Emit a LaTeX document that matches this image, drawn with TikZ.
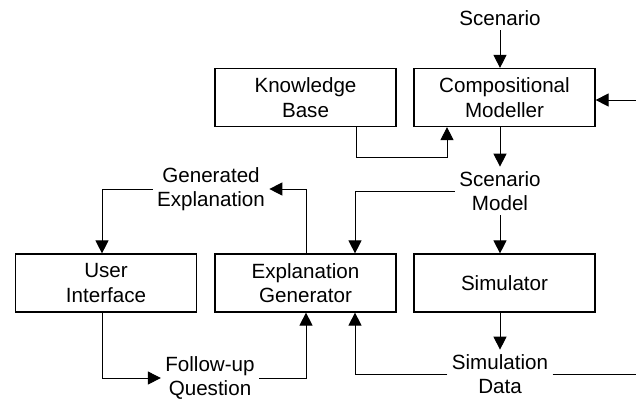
\documentclass[tikz,border=0pt]{standalone}
\usepackage{fontspec}
\setmainfont{Liberation Sans}
\usetikzlibrary{arrows.meta,calc}

\begin{document}
\begin{tikzpicture}[x=0.5pt,y=-0.5pt,line width=0.5pt,
    font=\fontsize{10.3pt}{12.3pt}\selectfont,
    block/.style={draw,line width=0.6pt,minimum width=90.5pt,minimum height=29pt,align=center,inner sep=0pt},
    tag/.style={align=center,inner sep=2pt},
    arr/.style={-{Triangle[length=6.5pt,width=6.5pt]}}]
  \useasboundingbox (0,0) rectangle (636,398);

  % upper part
  \node[tag] (scen) at (500,18) {Scenario};
  \node[block] (kb) at (305.5,97.5) {Knowledge\\Base};
  \node[block] (cm) at (504.5,97.5) {Compositional\\Modeller};
  \node[tag] (scenmod) at (500,191) {Scenario\\Model};
  \node[tag] (genexp) at (211,189) {Generated\\Explanation};

  % lower part
  \node[block] (ui) at (106,283) {User\\Interface};
  \node[block] (expgen) at (305.5,283) {Explanation\\Generator};
  \node[block] (sim) at (504.5,283) {Simulator};
  \node[tag] (follow) at (210,378) {Follow-up\\Question};
  \node[tag] (simdata) at (500,374) {Simulation\\Data};

  \coordinate (infeed) at (636,100);
  \coordinate (outfeed) at (636,370);

  \draw[arr] (scen.south) -- (scen.south |- cm.north);
  \draw[arr] (infeed) -- (infeed -| cm.east);
  \draw[arr] ($(kb.south)+(50.5,0)$) -- ++(0,30) -| ($(cm.south)+(-57.5,0)$);
  \draw[arr] (scenmod.north |- cm.south) -- (scenmod.north);
  \draw[arr] (scenmod.west) -| ($(expgen.north)+(49.5,0)$);
  \draw[arr] (scenmod.south) -- (scenmod.south |- sim.north);
  \draw[arr] ($(expgen.north)+(0.5,0)$) |- (genexp.east);
  \draw[arr] (genexp.west) -| ($(ui.north)+(-4,0)$);
  \draw[arr] ($(ui.south)+(-4,0)$) |- (follow.west);
  \draw[arr] (follow.east) -| ($(expgen.south)+(0.5,0)$);
  \draw[arr] (simdata.west) -| ($(expgen.south)+(49.5,0)$);
  \draw[arr] (simdata.north |- sim.south) -- (simdata.north);
  \draw (simdata.east) -- (simdata.east -| outfeed);
\end{tikzpicture}
\end{document}
